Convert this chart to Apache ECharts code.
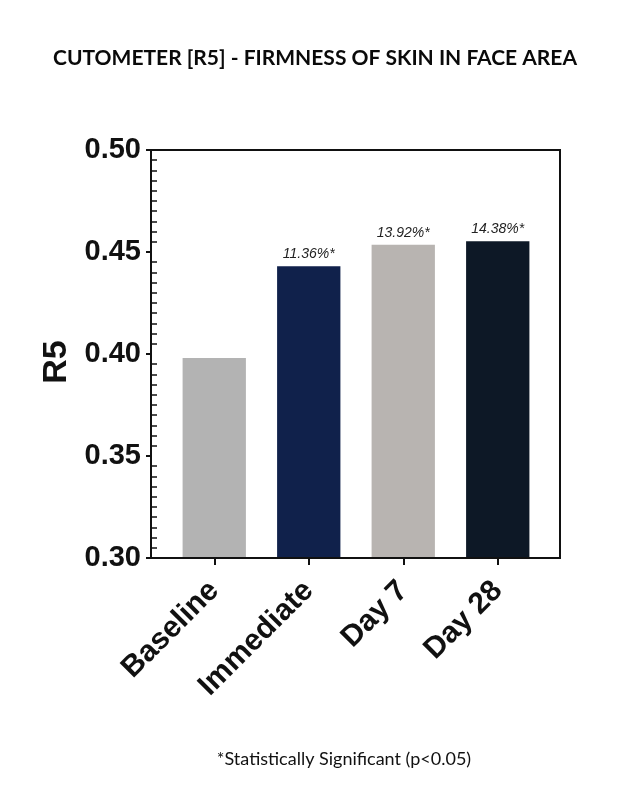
<!DOCTYPE html>
<html>
<head>
<meta charset="utf-8">
<script src="https://cdn.jsdelivr.net/npm/echarts@6/dist/echarts.min.js"></script>
<style>
html,body{margin:0;padding:0;background:#fff;}
#chart{width:640px;height:793px;}
</style>
</head>
<body>
<div id="chart"></div>
<script>
// ---- data ----
const titleText = 'CUTOMETER [R5] - FIRMNESS OF SKIN IN FACE AREA';
const footnote = '*Statistically Significant (p<0.05)';
const categories = ['Baseline', 'Immediate', 'Day 7', 'Day 28'];
const r5Values = [0.398, 0.443, 0.4535, 0.4553];
const changeLabels = ['', '11.36%*', '13.92%*', '14.38%*'];
const yTickMin = 0.30;
const yTickMax = 0.50;
const yTickStep = 0.05;
// ---- style ----
const barColors = ['#b3b3b3', '#10214b', '#b8b4b1', '#0d1826'];

const chart = echarts.init(document.getElementById('chart'), null, {renderer: 'canvas'});
chart.setOption({
  animation: false,
  backgroundColor: '#fff',
  title: [{
    text: titleText,
    left: 310, top: 43, textAlign: 'center',
    textStyle: {fontFamily: 'Lato', fontWeight: 'bold', fontSize: 21, color: '#0a0a0a'}
  }, {
    text: footnote,
    left: 339, top: 745, textAlign: 'center',
    textStyle: {fontFamily: 'Lato', fontWeight: 'normal', fontSize: 18, color: '#111'}
  }],
  grid: {left: 167, right: 95, top: 150, bottom: 235, containLabel: false},
  xAxis: {
    type: 'category',
    data: categories,
    axisLine: {show: false},
    axisTick: {show: true, alignWithLabel: true, length: 7, lineStyle: {color: '#111', width: 2}},
    axisLabel: {
      rotate: 45, margin: 28, color: '#111',
      fontFamily: 'Liberation Sans', fontWeight: 'bold', fontSize: 30
    }
  },
  yAxis: [{
    type: 'value',
    min: yTickMin, max: yTickMax, interval: yTickStep,
    offset: 16,
    name: 'R5',
    nameLocation: 'middle',
    nameGap: 75,
    nameTextStyle: {fontFamily: 'Liberation Sans', fontWeight: 'bold', fontSize: 34, color: '#111', padding: [0, 16, 0, 0]},
    axisLine: {show: true, lineStyle: {color: '#111', width: 2}},
    axisTick: {show: true, length: 5, lineStyle: {color: '#111', width: 2}},
    splitLine: {show: false},
    axisLabel: {
      margin: 10, color: '#111',
      fontFamily: 'Liberation Sans', fontWeight: 'bold', fontSize: 29,
      formatter: v => v.toFixed(2)
    }
  }, {
    type: 'value',
    position: 'left',
    min: yTickMin, max: yTickMax, interval: yTickStep,
    offset: 16,
    axisLine: {show: false},
    axisTick: {show: false, inside: true},
    minorTick: {show: true, splitNumber: 10, length: 6, lineStyle: {color: '#111', width: 1.5}},
    axisLabel: {show: false},
    splitLine: {show: false}
  }],
  series: [{
    type: 'bar',
    data: r5Values.map((v, i) => ({value: v, itemStyle: {color: barColors[i]}})),
    barCategoryGap: '33%',
    label: {
      show: true, position: 'top', distance: 5,
      formatter: p => changeLabels[p.dataIndex],
      fontFamily: 'Liberation Sans', fontStyle: 'italic', fontSize: 14, color: '#222'
    }
  }],
  graphic: [{
    type: 'rect',
    shape: {x: 151, y: 150, width: 409, height: 408},
    style: {fill: 'none', stroke: '#111', lineWidth: 2},
    z: 10
  }]
});
</script>
</body>
</html>
